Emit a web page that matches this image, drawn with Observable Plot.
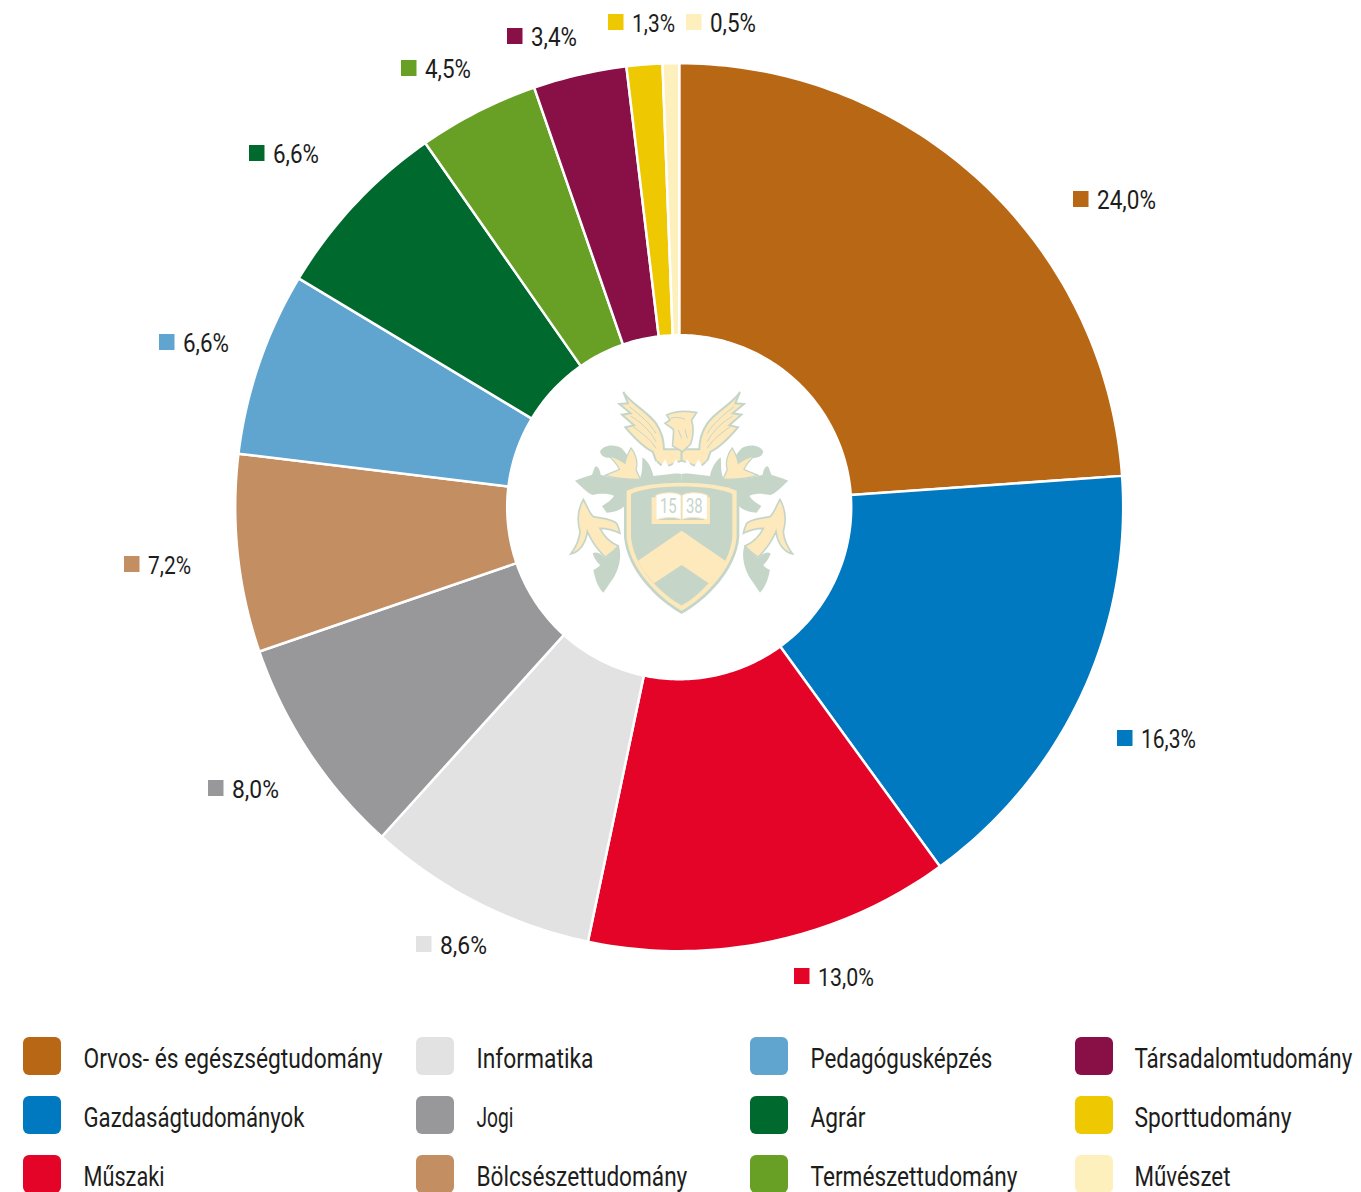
<!DOCTYPE html>
<html lang="hu">
<head>
<meta charset="utf-8">
<script src="https://cdn.jsdelivr.net/npm/d3@7"></script>
<script src="https://cdn.jsdelivr.net/npm/@observablehq/plot@0.6"></script>
<style>
html,body{margin:0;padding:0;background:#fff}
svg{display:block}
</style>
</head>
<body>
<div id="chart"></div>
<script>
// Data
const categories = ["Orvos- és egészségtudomány","Gazdaságtudományok","Műszaki","Informatika","Jogi","Bölcsészettudomány","Pedagógusképzés","Agrár","Természettudomány","Társadalomtudomány","Sporttudomány","Művészet"];
const valueLabels = ["24,0%","16,3%","13,0%","8,6%","8,0%","7,2%","6,6%","6,6%","4,5%","3,4%","1,3%","0,5%"];
const shares = [23.9,16.15,13.3,8.4,8.05,7.2,6.7,6.7,4.4,3.4,1.3,0.6];
const colors = ["#b86715","#0079c1","#e40428","#e2e2e2","#98989a","#c38e62","#5fa5d0","#006a2e","#68a025","#881047","#eec800","#fdf0bd"];

// Layout (pixels, separate from the data)
const W = 1361, H = 1192, cx = 678.7, cy = 506.7, R = 444, r0 = 172;
const labelPos = [[1073,199],[1117,738],[794,976],[416,944],[208,788],[124,564],[159,342],[249,153],[401,68],[507,36],[608,22],[686,22]];
const labelWidths = [59,55,56,47,47,43,46,46,46,46,43,46];
const legendCols = [[23,83],[416,476],[750,810],[1075,1134]];
const legendRows = [1037,1096,1155];
const legendWidths = [299,221,81,117,37,211,182,55,207,218,157,96];
const font = "Roboto,sans-serif";

const pie = d3.pie().sort(null).value(d => d)(shares);
const step = Math.PI / 180;
const polar = (a, rad) => [cx + rad * Math.sin(a), cy - rad * Math.cos(a)];
const slices = pie.flatMap((p, i) => {
  const n = Math.max(2, Math.ceil((p.endAngle - p.startAngle) / step));
  const as = d3.range(n + 1).map(k => p.startAngle + (p.endAngle - p.startAngle) * k / n);
  return [...as.map(a => polar(a, R)), ...as.reverse().map(a => polar(a, r0))]
    .map(([x, y]) => ({name: categories[i], x, y}));
});

const labels = categories.map((name, i) => ({name, text: valueLabels[i], x: labelPos[i][0], y: labelPos[i][1]}));
const legend = categories.map((name, i) => {
  const c = Math.floor(i / 3), rw = i % 3;
  return {name, x: legendCols[c][0], tx: legendCols[c][1], y: legendRows[rw]};
});

function crest() {
  const ns = "http://www.w3.org/2000/svg";
  const g = document.createElementNS(ns, "g");
  const G = "#c5d6c9", C = "#fde9bb";
  const half = `
    <path fill="${G}" d="M75 332 C95 322 112 320 126 314 C132 300 132 292 138 288 C146 292 150 300 152 314 C190 326 230 328 270 325 C280 300 275 280 278 262 C295 275 305 295 310 318 L395 308 L395 365 L232 365 L226 405 C215 420 190 428 170 428 C165 420 160 415 156 408 C170 400 185 390 192 378 C170 368 145 372 128 375 C110 368 95 350 75 332 Z"/>
    <path fill="${G}" d="M128 550 C145 540 160 560 165 565 C180 555 195 535 206 525 C218 560 205 600 190 625 C178 640 170 655 160 668 C148 655 138 640 130 600 C140 595 148 590 150 585 C140 575 132 565 128 550 Z"/>
    <path fill="${G}" d="M150 245 C155 228 190 218 215 235 C225 245 235 260 240 270 L228 300 C215 285 205 270 190 265 C175 262 155 265 150 245 Z"/>
    <path fill="${C}" stroke="${G}" stroke-width="4" d="M243 234 C258 250 265 280 258 298 C262 310 268 320 272 328 C240 328 205 328 166 316 C180 308 195 305 208 298 C200 280 185 265 172 255 C190 260 210 268 225 280 C228 262 235 248 243 234 Z"/>
    <path fill="${C}" stroke="${G}" stroke-width="5" d="M100 388 C110 405 118 430 130 440 C150 445 185 445 200 460 C205 470 208 480 210 490 C190 480 170 475 150 475 C160 495 175 515 205 528 C195 540 175 555 165 562 C150 545 135 530 125 510 C120 500 115 492 112 485 C108 515 92 545 62 552 C75 535 88 510 90 485 C80 450 85 415 100 388 Z"/>
    <path fill="${C}" stroke="${G}" stroke-width="6" d="M220 66 C240 100 290 122 318 160 C338 190 342 215 342 238 L395 238 L395 272 L342 292 L318 272 L308 245 C280 232 250 200 226 172 L252 166 L216 134 L242 130 L208 102 L234 100 Z"/>
    <path fill="none" stroke="${G}" stroke-width="3" d="M238 110 C270 135 300 160 318 190 M242 138 C270 155 300 180 318 215 M250 170 C275 190 300 205 318 235"/>`;
  g.setAttribute("transform", "translate(550,370) scale(0.3333)");
  g.innerHTML = `
    <g>${half}</g>
    <g transform="translate(790,0) scale(-1,1)">${half}</g>
    <path fill="${C}" stroke="${G}" stroke-width="5" d="M350 135 C370 125 400 120 440 128 L425 150 C432 175 430 200 422 222 L398 245 L368 228 C368 210 372 190 370 178 L345 160 L360 150 Z"/>
    <path fill="none" stroke="${G}" stroke-width="3" d="M362 145 C375 140 390 142 405 148 M385 180 L395 205 M405 178 L412 205"/>
    <path fill="#fff" d="M305 298 L318 272 L330 295 L345 268 L360 298 L378 268 L395 296 L412 268 L430 298 L445 268 L460 295 L472 272 L485 298 L395 312 Z"/>
    <path fill="${G}" d="M222 358 C290 322 500 322 568 358 L568 500 C560 600 470 690 395 732 C320 690 230 600 222 500 Z"/>
    <path fill="${C}" d="M230 362 C295 330 495 330 560 362 L560 500 C552 595 465 682 395 722 C325 682 238 595 230 500 Z"/>
    <path fill="${G}" d="M243 372 C300 342 490 342 547 372 L547 500 C540 590 460 670 395 708 C330 670 250 590 243 500 Z"/>
    <path fill="${C}" d="M395 482 L526 572 C505 625 450 675 395 708 C345 678 290 625 264 572 Z"/>
    <path fill="${G}" d="M395 585 L476 640 C450 668 425 690 395 706 C365 690 338 668 312 640 Z"/>
    <path fill="${C}" d="M305 382 L318 382 L318 450 L472 450 L472 382 L480 382 L480 462 L305 462 Z"/>
    <path fill="#fff" stroke="${C}" stroke-width="3" d="M318 376 C345 366 375 366 393 376 L393 448 C375 440 345 440 318 450 Z"/>
    <path fill="#fff" stroke="${C}" stroke-width="3" d="M397 376 C415 366 445 366 472 376 L472 450 C445 440 415 440 397 448 Z"/>
    <text transform="translate(330,430) scale(0.77,1)" text-anchor="start" fill="${G}" font-family="Roboto,sans-serif" font-size="58">15</text>
    <text transform="translate(408,430) scale(0.77,1)" text-anchor="start" fill="${G}" font-family="Roboto,sans-serif" font-size="58">38</text>`;
  return g;
}

const chart = Plot.plot({
  width: W, height: H, margin: 0,
  style: {background: "#fff", fontFamily: font},
  x: {domain: [0, W], range: [0, W], axis: null},
  y: {domain: [0, H], range: [0, H], axis: null},
  color: {domain: categories, range: colors},
  marks: [
    Plot.line(slices, {x: "x", y: "y", z: "name", fill: "name", stroke: "#fff", strokeWidth: 2.5, curve: "linear-closed"}),
    crest,
    Plot.rect(labels, {x1: "x", x2: d => d.x + 15.5, y1: d => d.y - 8, y2: d => d.y + 8, fill: "name"}),
    Plot.text(labels, {className: "pct", x: d => d.x + 23.5, y: d => d.y + 1, text: "text", textAnchor: "start", fontSize: 25.5, fill: "#1d1d1b"}),
    Plot.rect(legend, {x1: "x", x2: d => d.x + 38, y1: "y", y2: d => d.y + 38, r: 6, fill: "name"}),
    Plot.text(legend, {className: "leg", x: "tx", y: d => d.y + 22, text: "name", textAnchor: "start", fontSize: 27.5, fill: "#1d1d1b"})
  ]
});
document.getElementById("chart").append(chart);

// The reference typeface is a condensed one: narrow the installed font to its widths.
const narrow = (t, width) => {
  const k = width / t.getComputedTextLength();
  t.setAttribute("transform", `${t.getAttribute("transform") || ""} scale(${k.toFixed(4)},1)`);
};
chart.querySelectorAll(".pct text").forEach((t, i) => narrow(t, labelWidths[i]));
chart.querySelectorAll(".leg text").forEach(t => narrow(t, legendWidths[categories.indexOf(t.textContent)]));
</script>
</body>
</html>
